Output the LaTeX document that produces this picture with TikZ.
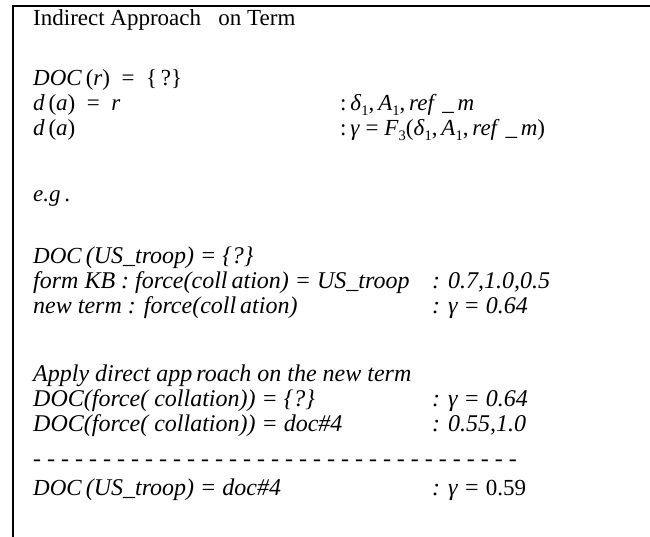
\documentclass[tikz,border=0pt]{standalone}
\usepackage{fontspec}
\setmainfont{Liberation Serif}
\newcommand\sbx[1]{\raisebox{-0.22em}{\fontsize{14.5}{14.5}\selectfont #1}}
\newcommand\tf{\fontsize{23}{25}\selectfont}
\newcommand\pf{\fontsize{24}{25}\selectfont\itshape}
\begin{document}
\begin{tikzpicture}[x=1pt,y=-1pt,
  txt/.style={anchor=base west,inner sep=0pt,font=\tf},
  ptxt/.style={anchor=base west,inner sep=0pt,font=\pf},
  frame/.style={line width=1.4pt,line cap=rect}]
\useasboundingbox (0,0) rectangle (650,536);
\coordinate (tr) at (650,6);
\coordinate (tl) at (13,6);
\coordinate (bl) at (13,536);
\draw[frame] (tr) -- (tl) -- (bl);
% top block
\node[txt] (t0) at (33,25) {Indirect Approach\ \ \ on Term};
\node[txt] (t1) at (33,85) {\textit{DOC}\,(\textit{r})\ \ =\ \ \{\,?\}};
\node[txt] (t2) at (33,110) {\textit{d}\,(\textit{a})\ \ =\ \ \textit{r}};
\node[txt] (t2r) at (340,110) {:\,\textit{δ}\sbx{1},\,\textit{A}\sbx{1},\,\textit{ref}\ \_\,\textit{m}};
\node[txt] (t3) at (33,135) {\textit{d}\,(\textit{a})};
\node[txt] (t3r) at (340,135) {:\,\textit{γ}\ =\ \textit{F}\sbx{3}(\textit{δ}\sbx{1},\,\textit{A}\sbx{1},\,\textit{ref}\ \_\,\textit{m})};
% example
\node[txt] (e0) at (33,201) {\textit{e.g}\,.};
\node[ptxt] (e1) at (33,263) {{\tf\itshape DOC}\,(US\_troop) = \{?\}};
\node[ptxt] (e2) at (33,288) {form KB : force(coll\,ation) = US\_troop};
\node[ptxt] (e2r) at (432,288) {: 0.7,1.0,0.5};
\node[ptxt] (e3) at (33,313) {new term : force(coll\,ation)};
\node[ptxt] (e3r) at (432,313) {: γ = 0.64};
\node[ptxt] (e4) at (33,381) {Apply direct app\,roach on the new term};
\node[ptxt] (e5) at (33,406) {DOC(force( collation)) = \{?\}};
\node[ptxt] (e5r) at (432,406) {: γ = 0.64};
\node[ptxt] (e6) at (33,431) {DOC(force( collation)) = doc\#4};
\node[ptxt] (e6r) at (432,431) {: 0.55,1.0};
\node[ptxt] (e7) at (33,466) {- - - - - - - - - - - - - - - - - - - - - - - - - - - - - - - - - - -};
\node[ptxt] (e8) at (33,495) {{\tf\itshape DOC}\,(US\_troop) = doc\#4};
\node[ptxt] (e8r) at (432,495) {: γ = {\tf\upshape 0.59}};
\end{tikzpicture}
\end{document}
